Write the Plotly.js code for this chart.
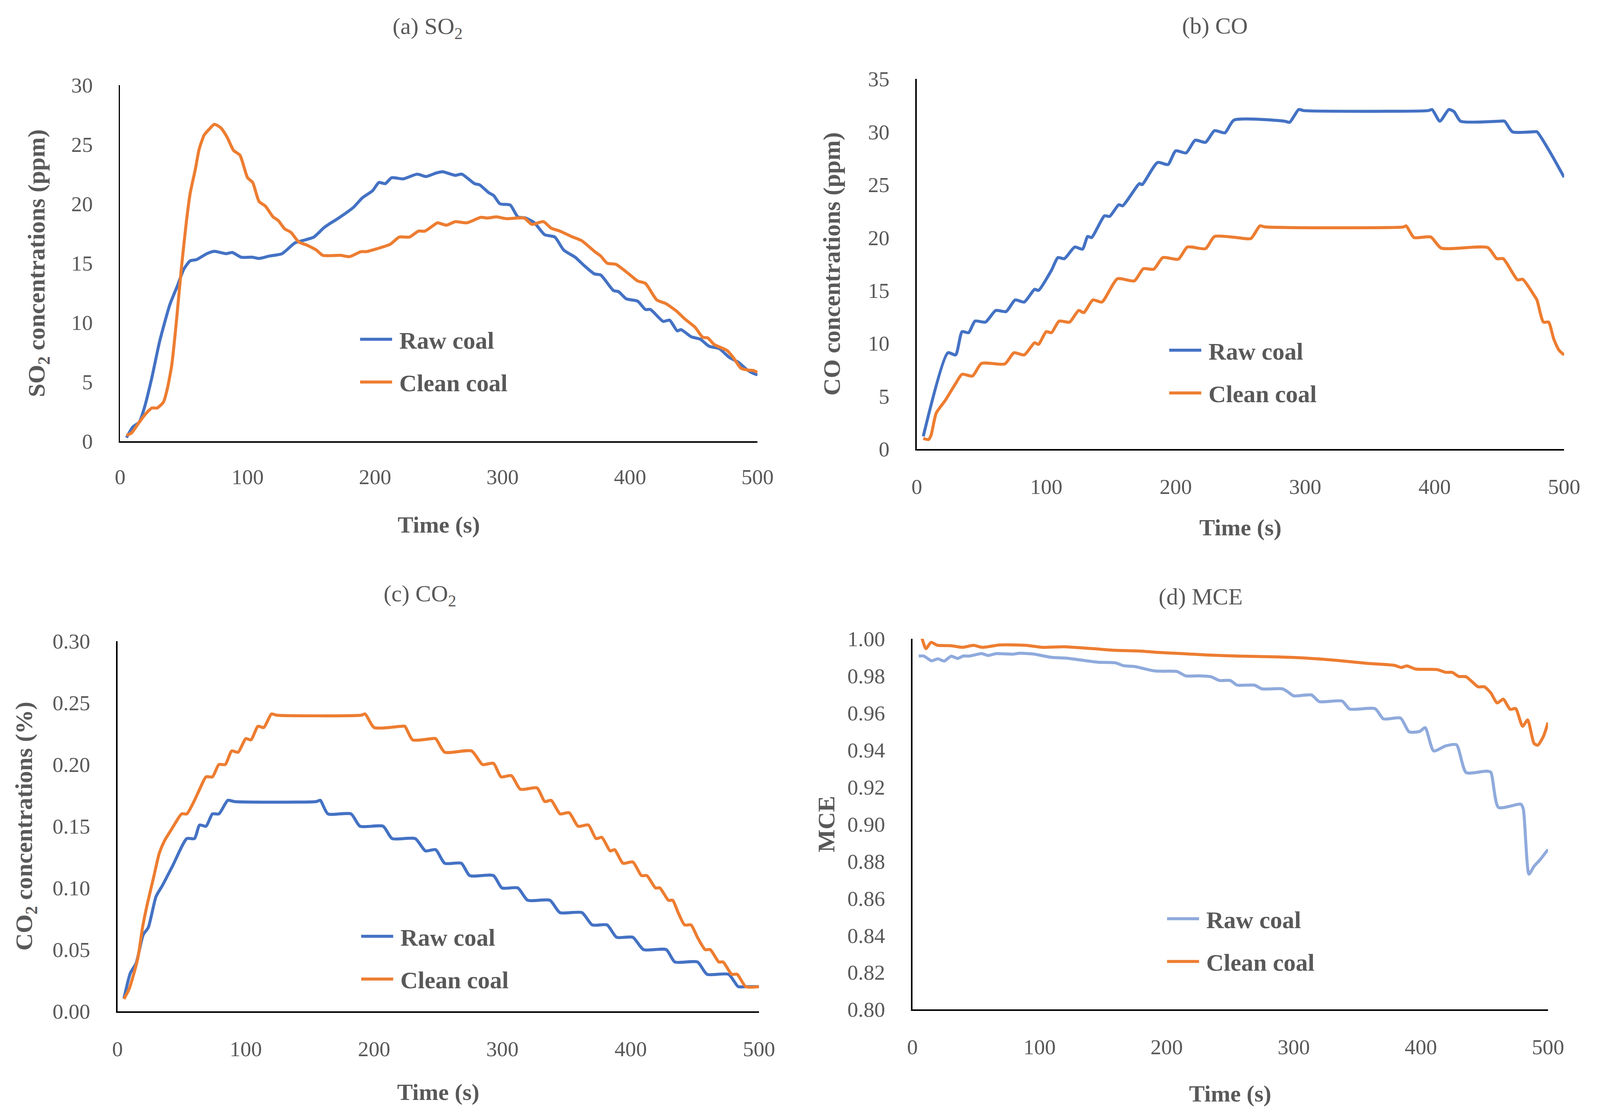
<!DOCTYPE html>
<html>
<head>
<meta charset="utf-8">
<script src="https://cdn.plot.ly/plotly-3.0.1.min.js"></script>
<style>html,body{margin:0;padding:0;background:#fff;overflow:hidden;}#chart{position:absolute;left:0;top:0;}</style>
</head>
<body>
<div id="chart"></div>
<script>
// ---------------- Data ----------------
const seriesNames = ["Raw coal", "Clean coal"];
const xTickVals = [0, 100, 200, 300, 400, 500];

// (a) SO2 (ppm)
const so2RawT = [5,10,15,19,25,31,39,45,50,55,60,68,74,83,88,95,104,109,117,127,137,143,152,160,164,170,183,190,198,203,208,213,222,233,240,248,253,263,268,278,282,289,293,298,306,312,318,325,333,341,348,357,364,372,377,387,391,397,406,412,416,426,431,437,440,448,455,462,470,478,485,492,497,500];
const so2RawV = [0.3,1.2,1.6,2.8,5.4,8.4,11.5,13.1,14.5,15.2,15.3,15.8,16.0,15.8,15.9,15.5,15.5,15.4,15.6,15.8,16.7,16.9,17.2,18.0,18.3,18.7,19.7,20.5,21.1,21.8,21.7,22.2,22.1,22.5,22.3,22.6,22.7,22.4,22.5,21.7,21.6,20.95,20.7,20.0,19.9,18.9,18.8,18.4,17.4,17.2,16.1,15.5,14.8,14.1,14.0,12.7,12.6,12.0,11.8,11.1,11.1,10.1,10.2,9.3,9.4,8.8,8.6,8.0,7.8,7.05,6.65,6.0,5.7,5.6];
const so2CleanT = [5,9,15,20,25,29,34,37,40.5,44,48,52,55,59,62,66,70,74,79,84,89,94,100,104,109,114,120,124,129,134,140,147,154,159,173,180,189,193,201,212,219,227,234,239,246,249,256,263,272,283,288,295,303,317,323,332,338,345,354,362,372,377,382,389,399,406,412,421,428,436,443,451,457,461,466,476,481,487,492,497,500];
const so2CleanV = [0.5,0.7,1.6,2.3,2.8,2.8,3.3,4.4,6.4,9.9,14.5,18.5,20.9,22.9,24.6,25.8,26.3,26.7,26.4,25.6,24.5,24.1,22.2,21.8,20.2,19.8,18.9,18.6,17.9,17.6,16.8,16.5,16.1,15.66,15.66,15.55,15.97,15.97,16.2,16.6,17.2,17.2,17.7,17.7,18.2,18.4,18.2,18.5,18.4,18.86,18.8,18.9,18.75,18.8,18.27,18.5,17.96,17.7,17.25,16.9,16.0,15.6,15.0,14.9,14.1,13.5,13.3,11.9,11.6,11.0,10.3,9.6,8.76,8.7,8.15,7.65,7.05,6.15,6.0,5.95,5.8];

// (b) CO (ppm)
const coRawT = [5,24,30,35,40,45,53,61,69,76,83,91,94,104,109,114,122,128,132,135,145,149,156,159,172,174,186,194,200,208,215,223,230,238,245,284,288,295,299,395,398,404,411,415,420,450,454,460,477,479,489,500];
const coRawV = [1.2,9.1,8.9,11.1,11.0,12.1,12.0,13.1,13.0,14.1,13.9,15.1,15.0,16.9,18.1,18.0,19.1,18.9,20.1,20.0,22.05,22.0,23.1,23.0,25.1,25.0,27.1,26.9,28.2,28.0,29.2,29.0,30.1,29.9,31.1,31.0,30.9,32.1,32.0,32.0,32.1,31.0,32.1,31.9,31.0,31.0,31.0,30.0,30.0,30.0,28.1,25.7];
const coCleanT = [5,9,11,15,22,30,35,43,50,68,75,83,91,94,100,104,110,118,125,129,136,143,155,168,175,183,190,202,209,223,230,247,258,265,269,376,378,384,397,405,441,448,453,464,468,477,479,484,488,492,496,500];
const coCleanV = [1.0,0.9,1.3,3.4,4.6,6.2,7.07,6.9,8.1,8.05,9.1,8.9,10.05,9.9,11.1,11.0,12.1,12.0,13.1,12.9,14.1,13.9,16.1,15.9,17.05,17.0,18.1,17.95,19.1,18.95,20.1,20.0,19.9,21.1,21.0,21.0,21.1,20.0,20.05,19.0,19.05,18.0,18.0,16.0,16.05,14.5,14.1,12.0,12.0,10.4,9.35,8.9];

// (c) CO2 (%)
const co2RawT = [5,10,14.5,20,24,30,35,43,54,60,64,69,74,79,86,91,155,158,164,182,189,207,214,232,240,248,255,268,274.5,293,299.6,312,319.7,337,344.8,362,370,381.6,389,401.7,410,427.7,434.4,452,459.5,476.3,483.8,490,500];
const co2RawV = [0.0105,0.031,0.039,0.062,0.068,0.093,0.102,0.118,0.140,0.140,0.151,0.150,0.160,0.160,0.171,0.170,0.170,0.171,0.160,0.160,0.150,0.150,0.140,0.140,0.130,0.131,0.120,0.120,0.110,0.110,0.100,0.100,0.090,0.090,0.080,0.080,0.070,0.070,0.060,0.060,0.050,0.050,0.040,0.040,0.030,0.030,0.020,0.020,0.020];
const co2CleanT = [5,9,12,16,19.5,23,28,32.5,36.5,43,50,54,60,64,69,74,79,84,89,94,100,104,109.5,114,120,124,190,193,200,221,224,230,245,248,255,276,284.5,293,299,307,314,327,333,338,345,352,359,367,373,377.5,384,387.5,394,401.7,408.4,412.6,419.3,422.7,429.4,432.7,437,442,447,452,458,462,468.7,472,478.8,483,489.7,500];
const co2CleanV = [0.010,0.018,0.028,0.044,0.068,0.086,0.108,0.128,0.138,0.149,0.160,0.160,0.171,0.180,0.190,0.190,0.200,0.200,0.211,0.210,0.221,0.220,0.231,0.230,0.241,0.240,0.240,0.241,0.230,0.231,0.231,0.220,0.221,0.221,0.210,0.211,0.200,0.201,0.190,0.191,0.180,0.181,0.170,0.171,0.160,0.161,0.150,0.151,0.140,0.141,0.130,0.131,0.120,0.121,0.110,0.110,0.100,0.100,0.090,0.090,0.080,0.070,0.070,0.060,0.050,0.050,0.040,0.040,0.030,0.030,0.020,0.020];

// (d) MCE
const mceRawT = [5,9,15,20,25,30.5,35.5,40,45,54.5,59.5,66,79,84,96,109,122,131,145.5,160,166,175,190,197,208,215,225,235,241.5,250,255.5,269,275,291,295,300,314,320,338,344,364,370.5,384,390.7,399,403.4,410,419.5,428,435.6,451.6,455,461,478.7,480.6,485,489,494,500];
const mceRawV = [0.9907,0.9907,0.9881,0.9892,0.988,0.9906,0.9894,0.9907,0.9907,0.992,0.991,0.992,0.9917,0.9922,0.9917,0.990,0.9895,0.9887,0.9874,0.987,0.9855,0.985,0.9827,0.9825,0.9824,0.980,0.980,0.9795,0.9775,0.9775,0.975,0.975,0.973,0.973,0.9715,0.9692,0.9697,0.9661,0.9664,0.9621,0.9623,0.9568,0.9572,0.9498,0.950,0.952,0.9395,0.9422,0.9428,0.9278,0.9286,0.928,0.909,0.9107,0.908,0.873,0.8772,0.881,0.8863];
const mceCleanT = [5,7,10.6,14.7,19.6,30,39.5,48,55,69,89,102.5,119,142,159,179,192,212,231.5,255,284,309.5,335,358.6,379,384.7,389,395.8,412.7,419.5,424.6,429.7,435.6,445,450,455,460,464.8,470.3,474.5,480,484,489,492,496.5,500];
const mceCleanV = [1.004,1.0014,0.9947,0.9981,0.9965,0.9963,0.9954,0.9965,0.9954,0.9967,0.9965,0.9954,0.9957,0.9947,0.9938,0.9934,0.9927,0.992,0.9913,0.9907,0.9903,0.9896,0.9883,0.9867,0.9857,0.9845,0.9854,0.9837,0.9834,0.9819,0.9819,0.9797,0.9795,0.9741,0.9741,0.9708,0.9654,0.9674,0.9619,0.9624,0.9528,0.9562,0.9435,0.9426,0.9475,0.9548];

// ---------------- Styling ----------------
const BLUE = "#4472C4", ORANGE = "#ED7D31", LIGHTBLUE = "#8FAADC";
const TEXT = "#595959";
const FONT = "Liberation Serif";
// reference design size; the page fills the actual viewport proportionally
const RW = 4370, RH = 2853;
const W = Math.max(800, document.documentElement.clientWidth || window.innerWidth || RW);
const H = Math.max(600, document.documentElement.clientHeight || window.innerHeight || RH);
const sx = W / RW, sy = H / RH, sf = Math.sqrt(sx * sy);
const chartDiv = document.getElementById("chart");
chartDiv.style.width = W + "px";
chartDiv.style.height = H + "px";

function line(x, y, name, color, xa, ya, legend, grp) {
  return {
    x: x, y: y, name: name, type: "scatter", mode: "lines",
    xaxis: xa, yaxis: ya, legend: legend, legendgroup: grp,
    line: {color: color, width: 8 * sf, shape: "spline", smoothing: 0.6},
    hoverinfo: "skip"
  };
}

const traces = [
  line(so2RawT, so2RawV, seriesNames[0], BLUE, "x", "y", "legend", "a1"),
  line(so2CleanT, so2CleanV, seriesNames[1], ORANGE, "x", "y", "legend", "a2"),
  line(coRawT, coRawV, seriesNames[0], BLUE, "x2", "y2", "legend2", "b1"),
  line(coCleanT, coCleanV, seriesNames[1], ORANGE, "x2", "y2", "legend2", "b2"),
  line(co2RawT, co2RawV, seriesNames[0], BLUE, "x3", "y3", "legend3", "c1"),
  line(co2CleanT, co2CleanV, seriesNames[1], ORANGE, "x3", "y3", "legend3", "c2"),
  line(mceRawT, mceRawV, seriesNames[0], LIGHTBLUE, "x4", "y4", "legend4", "d1"),
  line(mceCleanT, mceCleanV, seriesNames[1], ORANGE, "x4", "y4", "legend4", "d2")
];

function xAxis(l, r, anchor, labelGap, titleGap) {
  return {
    domain: [l / RW, r / RW], anchor: anchor, range: [0, 500],
    tickvals: xTickVals, ticks: "", showgrid: false, zeroline: false,
    showline: true, linecolor: "#000", linewidth: 4 * sf,
    tickfont: {family: FONT, size: 57 * sf, color: TEXT},
    ticklabelstandoff: Math.round(labelGap * sy),
    title: {text: "Time (s)", font: {family: FONT, size: 62 * sf, color: TEXT, weight: "bold"}, standoff: Math.round(titleGap * sy)},
    fixedrange: true
  };
}
function yAxis(b, t, anchor, range, dtick, fmt, title, titleGap) {
  return {
    domain: [1 - b / RH, 1 - t / RH], anchor: anchor, range: range, dtick: dtick, tick0: range[0],
    tickformat: fmt, ticks: "", showgrid: false, zeroline: false,
    showline: true, linecolor: "#000", linewidth: 4 * sf,
    tickfont: {family: FONT, size: 57 * sf, color: TEXT},
    ticklabelstandoff: Math.round(59 * sx),
    title: {text: title, font: {family: FONT, size: 64 * sf, color: TEXT, weight: "bold"}, standoff: Math.round(titleGap * sx)},
    fixedrange: true
  };
}
function legendAt(x, y) {
  return {
    x: x / RW, y: 1 - y / RH, xanchor: "left", yanchor: "top", orientation: "v",
    bgcolor: "rgba(0,0,0,0)", borderwidth: 0,
    font: {family: FONT, size: 64 * sf, color: TEXT, weight: "bold"},
    itemwidth: Math.max(30, 104 * sx), tracegroupgap: 26 * sy, itemclick: false, itemdoubleclick: false
  };
}
function titleAnn(text, x, y) {
  return {text: text, xref: "paper", yref: "paper", x: x / RW, y: 1 - y / RH,
          xanchor: "center", yanchor: "middle", showarrow: false,
          font: {family: FONT, size: 62 * sf, color: TEXT}};
}

const layout = {
  width: W, height: H,
  margin: {l: 0, r: 0, t: 0, b: 0},
  paper_bgcolor: "#fff", plot_bgcolor: "#fff",
  font: {family: FONT, color: TEXT},
  showlegend: true,
  xaxis: xAxis(328, 2069, "y", 40, 72),
  yaxis: yAxis(1130, 218, "x", [0, 30], 5, "d", "SO<sub>2</sub> concentrations (ppm)", 52),
  xaxis2: xAxis(2504, 4272, "y2", 45, 54),
  yaxis2: yAxis(1150, 202, "x2", [0, 35], 5, "d", "CO concentrations (ppm)", 55),
  xaxis3: xAxis(321, 2073, "y3", 45, 60),
  yaxis3: yAxis(2590, 1642, "x3", [0, 0.3], 0.05, ".2f", "CO<sub>2</sub> concentrations (%)", 35),
  xaxis4: xAxis(2492, 4228, "y4", 45, 69),
  yaxis4: yAxis(2585, 1636, "x4", [0.8, 1.0], 0.02, ".2f", "MCE", 15),
  legend: legendAt(976, 822),
  legend2: legendAt(3186, 850),
  legend3: legendAt(979, 2351),
  legend4: legendAt(3180, 2306),
  annotations: [
    titleAnn("(a) SO<sub>2</sub>", 1168, 71),
    titleAnn("(b) CO", 3318, 66),
    titleAnn("(c) CO<sub>2</sub>", 1147, 1524),
    titleAnn("(d) MCE", 3279, 1528)
  ]
};

Plotly.newPlot(chartDiv, traces, layout, {staticPlot: true, displayModeBar: false}).then(function (gd) {
  // lengthen the legend line samples to match the reference's long legend keys
  var len = Math.round(88 * sx), start = Math.round(8 * sx);
  gd.querySelectorAll(".legendlines path.js-line").forEach(function (p) {
    p.setAttribute("d", "M" + start + ",0h" + len);
  });
});
</script>
</body>
</html>
